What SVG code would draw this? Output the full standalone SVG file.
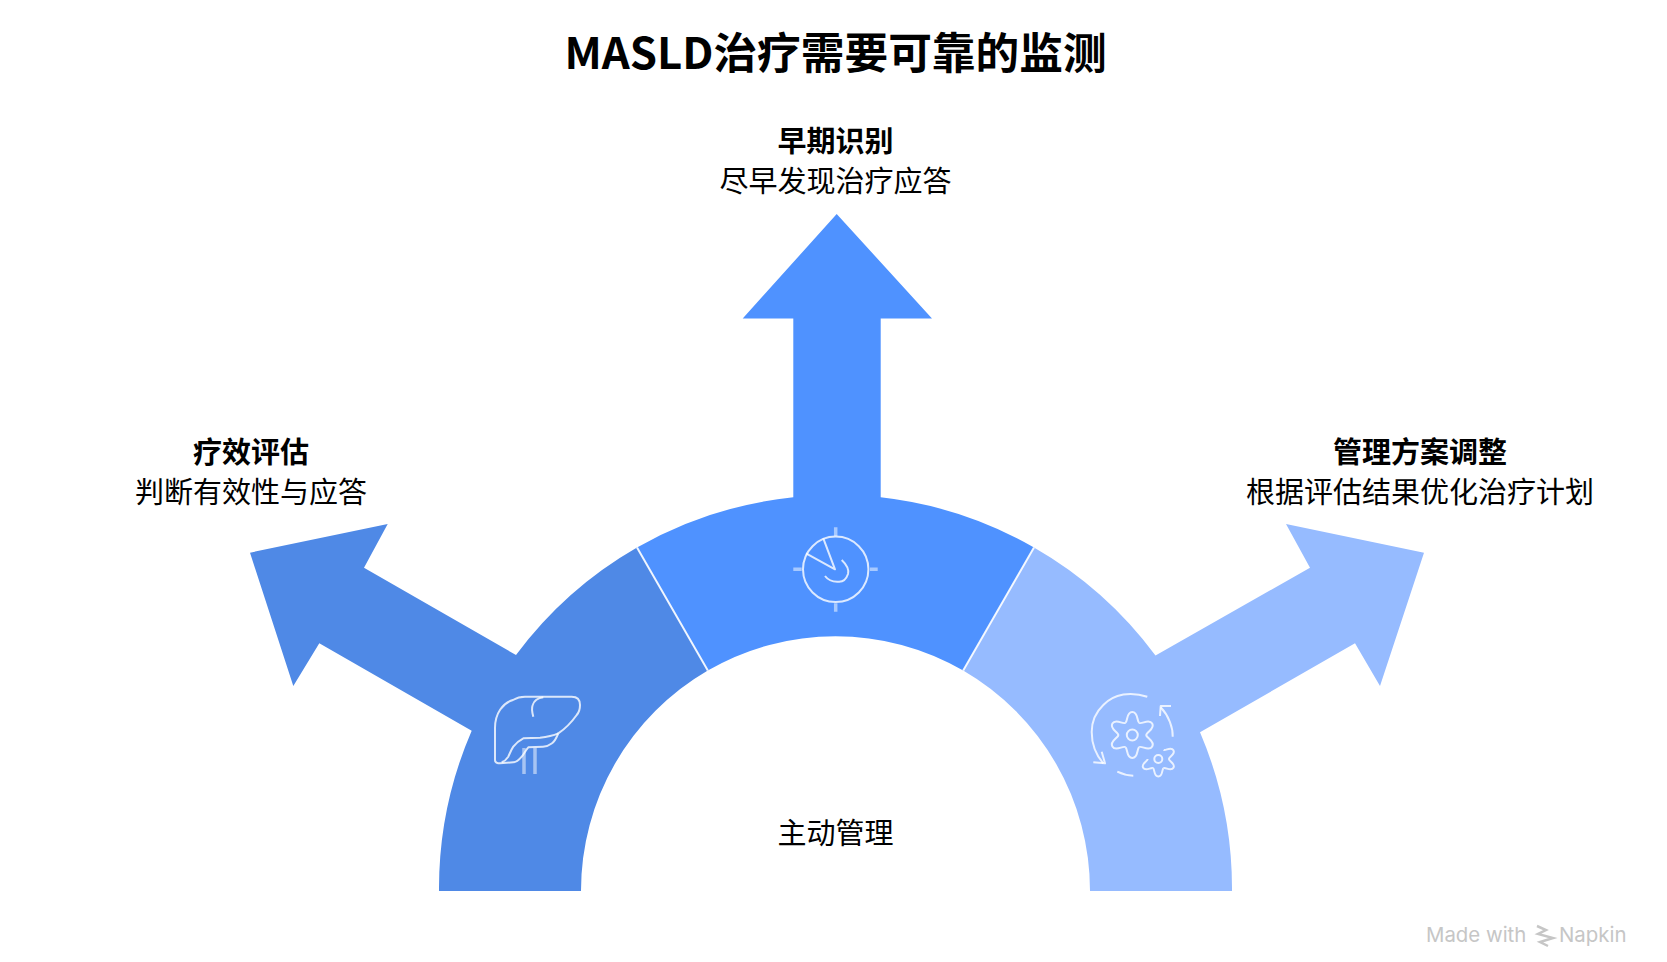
<svg xmlns="http://www.w3.org/2000/svg" width="1667" height="962" viewBox="0 0 1667 962">
<defs><path id="lobe" d="M-7 -12.100C-4.300 -13.500 -6.300 -23 0 -23C6.300 -23 4.300 -13.500 7 -12.100"/></defs>
<style>
text{font-family:"Liberation Sans","Noto Sans CJK SC",sans-serif;text-anchor:middle;fill:#000}
.cjk{font-family:"Noto Sans CJK SC",sans-serif}
.t{font-size:29px;font-weight:700}
.s{font-size:29px;font-weight:400}
.i{fill:none;stroke:#fff;stroke-width:2;stroke-opacity:.8;stroke-linecap:butt;stroke-linejoin:round}
.h{fill:none;stroke:#fff;stroke-width:3.500;stroke-opacity:.5}
.sep{fill:none;stroke:#fff;stroke-width:2;stroke-opacity:.9}
.m{font-size:20.400px;fill:#c6c6c6;font-family:"Inter","Liberation Sans",sans-serif;text-anchor:start}
</style>
<rect width="1667" height="962" fill="#fff"/>
<text class="cjk" x="835.500" y="69" style="font-size:43.700px;font-weight:700">MASLD治疗需要可靠的监测</text>
<g id="left">
<path fill="#4f89e6" d="M439 891A397 397 0 0 1 471.700 730.700L319.300 643.300L293.300 686L250 552.700L387.700 524L364 567.700L516 655A397 397 0 0 1 637 547.500L707.800 670.600A254.500 254.500 0 0 0 581 891Z"/>
<g class="i"><path d="M495 760V728C495 713 503 703 513 700C518 697 521 696.700 525 696.700H571.700C578 696.700 580 700 580 705C580 709 578.500 713 576.700 715C571 723 565 729 558.300 733.300C556 739 554 742 551.700 743.500C549 745.500 546 746.700 543 746.700L528.300 747.300C525 751 524 754 521.700 756.700C519 760 516 762.300 513.300 762.300L500 763.300C497 763.300 495 762 495 760Z"/><path d="M558.300 733.300C552 736 546 737 540 737.700L523.300 738.300C518 741 516 743 513.300 746.700C511 750 510 753 508.300 756.700C506 760 504 761.500 501.700 762.300"/><path d="M533.300 716.700C532 712 531.500 708 532.700 705C534 701 538 698 543.300 697.300"/></g>
<path class="h" d="M524 748V774M535 748V774"/>
</g>
<g id="center">
<path fill="#4f92ff" d="M637 547.500A397 397 0 0 1 793.300 497.300V318.500H742.700L836.700 214L932 318.500H880.700V497.300A397 397 0 0 1 1034 547.500L963.200 670.600A254.500 254.500 0 0 0 707.800 670.600Z"/>
<circle class="i" cx="835.700" cy="569.300" r="32.700"/>
<path class="i" d="M806 553.300L835 569.300L823.300 538.300M841.700 560C847 565 849 570 848 574C846 580 842 582 838.300 581.700C832 582 828 580 825 576"/>
<path class="h" d="M835.700 527.300V536M835.700 603.300V611.700M793.300 569.300H801.700M870 569.300H877.700"/>
</g>
<g id="right">
<path fill="#96bbff" d="M1232 891A397 397 0 0 0 1200 732.300L1355 643.300L1380 686L1424 552.700L1286 524L1310 567.700L1155.500 655.500A397 397 0 0 0 1034 547.500L963.200 670.600A254.500 254.500 0 0 1 1090 891Z"/>
<g class="i"><path d="M1147.300 696.700C1139 694 1131 693.500 1123.300 694.500C1115 696 1108 700 1103.300 705C1096 712 1091.700 722 1091.700 732C1091.700 744 1096 755 1103.300 763.300"/><path d="M1093.300 762.300L1105 763.300L1101.700 751.700"/><path d="M1117.300 771.700C1122 774 1128 775.500 1133.300 775.700"/><path d="M1172.700 736.700C1173 728 1169 716 1160.700 707.300"/><path d="M1171 706H1160.700L1160 716"/>
<g transform="translate(1132.300 735)"><use href="#lobe"/><use href="#lobe" transform="rotate(60)"/><use href="#lobe" transform="rotate(120)"/><use href="#lobe" transform="rotate(180)"/><use href="#lobe" transform="rotate(240)"/><use href="#lobe" transform="rotate(300)"/></g>
<circle cx="1132.300" cy="735" r="5.500"/>
<g transform="translate(1158.300 759) scale(.76)" style="stroke-width:2.600"><use href="#lobe" transform="rotate(60)"/><use href="#lobe" transform="rotate(120)"/><use href="#lobe" transform="rotate(180)"/><use href="#lobe" transform="rotate(240)"/></g>
<circle cx="1158.300" cy="759" r="4"/></g>
</g>
<g id="connectors">
<path class="sep" d="M637 547.500L707.800 670.600M1034 547.500L963.200 670.600"/>
</g>
<g id="t1"><text class="cjk t" x="835.500" y="152">早期识别</text><text class="cjk s" x="835.500" y="191.500">尽早发现治疗应答</text></g>
<g id="t2"><text class="cjk t" x="251" y="463">疗效评估</text><text class="cjk s" x="251" y="502.500">判断有效性与应答</text></g>
<g id="t3"><text class="cjk t" x="1420" y="463">管理方案调整</text><text class="cjk s" x="1420" y="502.500">根据评估结果优化治疗计划</text></g>
<g id="t4"><text class="cjk s" x="835.500" y="844">主动管理</text></g>
<g id="wm"><text class="m" x="1426" y="942">Made with</text>
<path fill="none" stroke="#c6c6c6" stroke-width="2.500" d="M1537 926L1546 930L1538 934L1553 938L1540 942L1548 946"/>
<text class="m" x="1559" y="942">Napkin</text></g>
</svg>
